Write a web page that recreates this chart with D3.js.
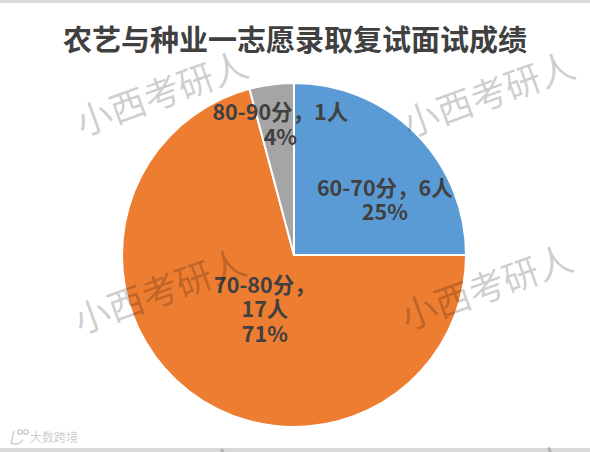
<!DOCTYPE html>
<html>
<head>
<meta charset="utf-8">
<script src="https://cdn.jsdelivr.net/npm/d3@7"></script>
<style>
  html, body { margin: 0; padding: 0; background: #fff; }
  svg { display: block; }
</style>
</head>
<body>
<svg id="chart" width="590" height="452"></svg>
<script>
// ---- data ----
const title = "农艺与种业一志愿录取复试面试成绩";
const categories = ["60-70分", "70-80分", "80-90分"];
const counts = [6, 17, 1];
const colors = ["#5B9BD5", "#ED7D31", "#A5A5A5"];
const wrapAfterCategory = [false, true, false];
const watermarkText = "小西考研人";

const W = 590, H = 452;
const cx = 294, cy = 255, R = 172;
const svg = d3.select("#chart");
const font = "'Noto Sans CJK SC', 'Noto Sans', sans-serif";

svg.append("rect").attr("width", W).attr("height", H).attr("fill", "#fff");
// top & bottom bands
svg.append("rect").attr("x", 0).attr("y", 0).attr("width", W).attr("height", 3).attr("fill", "#d9d9d9");
svg.append("rect").attr("x", 0).attr("y", 448).attr("width", W).attr("height", 4).attr("fill", "#d9d9d9");

// title
svg.append("text")
  .attr("x", 295).attr("y", 51)
  .attr("text-anchor", "middle")
  .attr("font-family", font)
  .attr("font-weight", "bold")
  .attr("font-size", 29)
  .attr("fill", "#404040")
  .text(title);

const total = d3.sum(counts);
const data = categories.map((c, i) => ({
  cat: c, n: counts[i], color: colors[i], wrap: wrapAfterCategory[i],
  pct: Math.round(counts[i] / total * 100) + "%"
}));

const pie = d3.pie().value(d => d.n).sort(null);
const arcs = pie(data);
const arc = d3.arc().innerRadius(0).outerRadius(R);

const g = svg.append("g").attr("transform", `translate(${cx},${cy})`);
g.selectAll("path.slice").data(arcs).enter().append("path")
  .attr("class", "slice")
  .attr("d", arc)
  .attr("fill", d => d.data.color)
  .attr("stroke", "#fff")
  .attr("stroke-width", 2)
  .attr("stroke-linejoin", "round");

// labels (positioned by angle + radius, Excel "best fit"-like)
const labelPlacement = [
  { angleShift: 14, r: 106 },
  { angleShift: -9.5, r: 62 },
  { angleShift: 1.5, r: 131 }
];
const lineH = 24.5;
arcs.forEach((a, i) => {
  const mid = (a.startAngle + a.endAngle) / 2 + labelPlacement[i].angleShift * Math.PI / 180;
  const r = labelPlacement[i].r;
  const lx = r * Math.sin(mid), ly = -r * Math.cos(mid);
  const d = a.data;
  const lines = d.wrap ? [d.cat + "，", d.n + "人", d.pct] : [d.cat + "，" + d.n + "人", d.pct];
  const t = g.append("text")
    .attr("text-anchor", "middle")
    .attr("font-family", font)
    .attr("font-weight", "bold")
    .attr("font-size", 21.5)
    .attr("fill", "#404040");
  const y0 = ly - (lines.length - 1) * lineH / 2;
  lines.forEach((s, k) => {
    t.append("tspan").attr("x", lx).attr("y", y0 + k * lineH).attr("dy", "0.35em").text(s);
  });
});

// watermarks
const wmCenters = [[162, 94], [489, 95], [160, 292], [487, 288], [160, 490], [487, 488]];
wmCenters.forEach(([x, y]) => {
  svg.append("text")
    .attr("transform", `translate(${x},${y}) rotate(-20)`)
    .attr("text-anchor", "middle")
    .attr("dy", "0.35em")
    .attr("font-family", font)
    .attr("font-size", 36)
    .attr("fill", "#000")
    .attr("fill-opacity", 0.2)
    .text(watermarkText);
});

// bottom-left logo
const logo = svg.append("g").attr("fill", "none").attr("stroke", "#cfcfcf").attr("stroke-width", 1.5);
logo.append("path").attr("d", "M14,431 L11,443 Q18,446 23,440");
logo.append("circle").attr("cx", 20).attr("cy", 432).attr("r", 2.2);
logo.append("circle").attr("cx", 26).attr("cy", 432).attr("r", 2.2);
svg.append("text")
  .attr("x", 30).attr("y", 442)
  .attr("font-family", font)
  .attr("font-size", 12)
  .attr("fill", "#cfcfcf")
  .text("大数跨境");
</script>
</body>
</html>
